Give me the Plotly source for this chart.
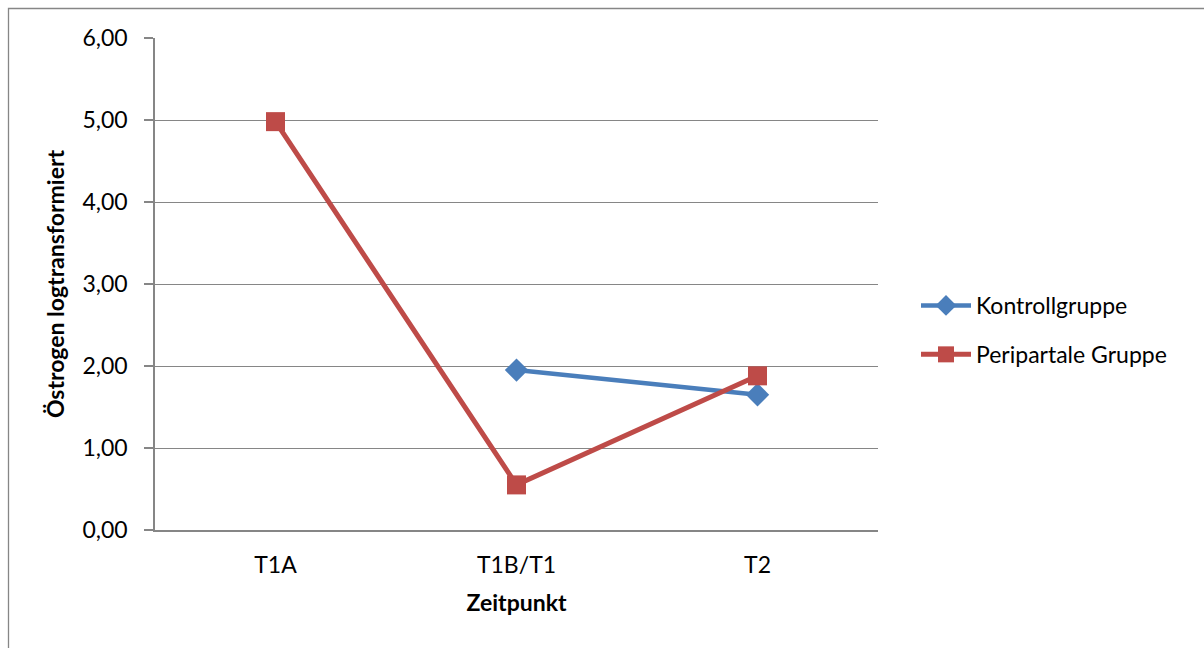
import plotly.graph_objects as go

# Zeitpunkte und Messwerte (Östrogen, logtransformiert)
zeitpunkte = ["T1A", "T1B/T1", "T2"]
kontroll_x = ["T1B/T1", "T2"]
kontroll_y = [1.95, 1.65]
peripartal_x = ["T1A", "T1B/T1", "T2"]
peripartal_y = [4.98, 0.55, 1.88]
y_ticks = [0, 1, 2, 3, 4, 5, 6]

W, H = 1204, 648
L, R, T, B = 155, 326, 38, 118
pw, ph = W - L - R, H - T - B

FONT = "Lato, Carlito, Calibri, sans-serif"

fig = go.Figure()
fig.add_trace(go.Scatter(
    x=kontroll_x, y=kontroll_y, name="Kontrollgruppe", mode="lines+markers",
    line=dict(color="#4A7EBB", width=4.5),
    marker=dict(symbol="diamond", size=18, color="#4A7EBB"),
    legendgroup="k",
))
fig.add_trace(go.Scatter(
    x=peripartal_x, y=peripartal_y, name="Peripartale Gruppe", mode="lines+markers",
    line=dict(color="#BE4B48", width=5),
    marker=dict(symbol="square", size=19, color="#BE4B48"),
    legendgroup="p",
))

# Rahmen um das Diagramm (rechts/unten außerhalb des sichtbaren Bereichs)
fig.add_shape(
    type="rect", xref="paper", yref="paper",
    x0=(8.5 - L) / pw, x1=(W + 5 - L) / pw,
    y0=-(B + 5) / ph, y1=(H - 8.5 - B) / ph,
    line=dict(color="#868686", width=1.3), fillcolor="rgba(0,0,0,0)", layer="below",
)

fig.update_layout(
    width=W, height=H,
    margin=dict(l=L, r=R, t=T, b=B, autoexpand=False),
    paper_bgcolor="white", plot_bgcolor="white",
    separators=", ",
    font=dict(family=FONT, size=23, color="#000000"),
    showlegend=True,
    legend=dict(
        x=1.0 + (916 - 878) / pw, y=0.5 + (530 - 330 - ph / 2) / ph,
        xanchor="left", yanchor="middle",
        font=dict(size=23), tracegroupgap=16, itemwidth=50,
        bgcolor="rgba(0,0,0,0)",
    ),
    xaxis=dict(
        type="category", categoryorder="array", categoryarray=zeitpunkte,
        range=[-0.5, 2.5], showgrid=False, zeroline=False,
        showline=True, linecolor="#868686", linewidth=1.5,
        ticks="", ticklabelstandoff=14,
        tickfont=dict(size=23),
        title=dict(text="<b>Zeitpunkt</b>", font=dict(size=23), standoff=18),
    ),
    yaxis=dict(
        range=[0, 6], tickvals=y_ticks, tickformat=".2f",
        showgrid=True, gridcolor="#868686", gridwidth=1.3,
        zeroline=False, showline=True, linecolor="#868686", linewidth=1.5,
        ticks="outside", ticklen=9, tickcolor="#868686", tickwidth=1.5,
        ticklabelstandoff=12, tickfont=dict(size=23),
        title=dict(text="<b>Östrogen logtransformiert</b>", font=dict(size=23), standoff=11),
    ),
)

fig.write_html("out.html")
